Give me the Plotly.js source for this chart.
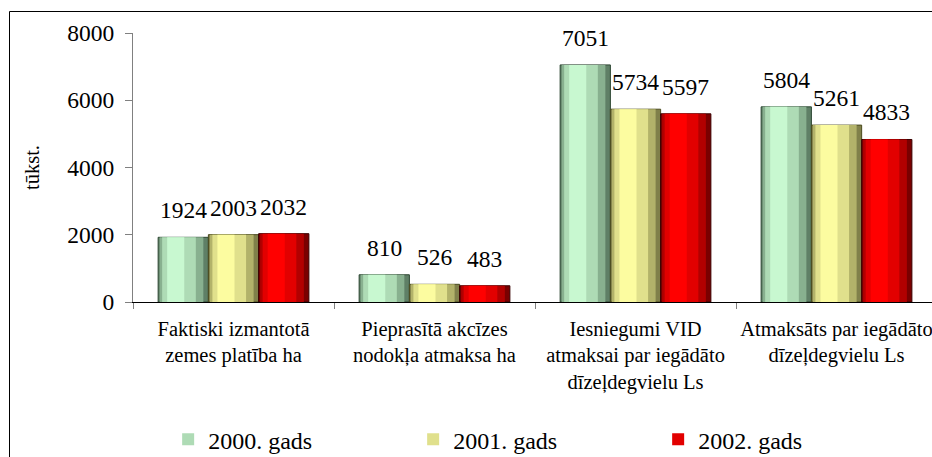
<!DOCTYPE html>
<html><head><meta charset="utf-8">
<script src="https://cdn.plot.ly/plotly-3.0.1.min.js"></script>
<style>html,body{margin:0;padding:0;background:#fff}#chart{width:932px;height:457px}</style>
</head><body><div id="chart"></div>
<script>
// ---- data ----
const categories = [
  "Faktiski izmantotā<br>zemes platība ha",
  "Pieprasītā akcīzes<br>nodokļa atmaksa ha",
  "Iesniegumi VID<br>atmaksai par iegādāto<br>dīzeļdegvielu Ls",
  "Atmaksāts par iegādāto<br>dīzeļdegvielu Ls"
];
const seriesNames = ["2000. gads", "2001. gads", "2002. gads"];
const values2000 = [1924, 810, 7051, 5804];
const values2001 = [2003, 526, 5734, 5261];
const values2002 = [2032, 483, 5597, 4833];
const yTickValues = [0, 2000, 4000, 6000, 8000];
const yAxisTitle = "tūkst.";

// ---- styling ----
const seriesValues = [values2000, values2001, values2002];
const palettes = [
  {edge: '#2c4632', outer: '#5f7f66', mid2: '#88b08f', mid: '#aedbb5', inner: '#c8f8d0'},
  {edge: '#4a4a1e', outer: '#80804a', mid2: '#b2b26a', mid: '#e0e08c', inner: '#fcfca0'},
  {edge: '#3a0000', outer: '#7a0000', mid2: '#b20000', mid: '#e20000', inner: '#ff0000'}
];
const barW = 0.25;
const layers = [
  {key: 'outer', f0: 0, f1: 1},
  {key: 'mid2', f0: 0.03, f1: 0.9},
  {key: 'mid', f0: 0.08, f1: 0.75},
  {key: 'inner', f0: 0.18, f1: 0.52}
];
const FONT = '"Liberation Serif", "Times New Roman", serif';

const traces = [];
seriesValues.forEach((vals, i) => {
  const left = -0.375 + i * barW;
  layers.forEach(L => {
    traces.push({
      type: 'bar',
      name: seriesNames[i],
      x: categories,
      y: vals,
      offset: left + L.f0 * barW,
      width: (L.f1 - L.f0) * barW,
      marker: {
        color: palettes[i][L.key],
        line: {color: palettes[i].edge, width: L.key === 'outer' ? 1 : 0}
      },
      showlegend: L.key === 'mid',
      legendgroup: 's' + i,
      hoverinfo: 'skip'
    });
  });
});

const annotations = [];
seriesValues.forEach((vals, i) => {
  vals.forEach((v, j) => {
    annotations.push({
      x: j - 0.25 + i * barW, y: v, xref: 'x', yref: 'y',
      text: String(v), showarrow: false, yshift: 27,
      font: {family: FONT, size: 23.5, color: '#000'}
    });
  });
});

const layout = {
  width: 932, height: 457,
  margin: {l: 133, r: 0, t: 33, b: 155},
  paper_bgcolor: '#fff', plot_bgcolor: '#fff',
  font: {family: FONT, color: '#000'},
  barmode: 'overlay',
  showlegend: true,
  xaxis: {
    type: 'category', range: [-0.5, 3.475],
    tickson: 'boundaries', ticks: 'outside', ticklen: 6, tickcolor: '#808080',
    showline: true, linecolor: '#000', linewidth: 1,
    showgrid: false, zeroline: false,
    tickfont: {family: FONT, size: 20.5, color: '#000'},
    ticklabelstandoff: 8
  },
  yaxis: {
    range: [0, 8000], tickvals: yTickValues, ticktext: yTickValues.map(String),
    ticks: 'outside', ticklen: 7, tickcolor: '#808080',
    showline: true, linecolor: '#808080', linewidth: 1,
    showgrid: false, zeroline: false,
    tickfont: {family: FONT, size: 23.5, color: '#000'},
    ticklabelstandoff: 6,
    title: {text: yAxisTitle, font: {family: FONT, size: 20.5, color: '#000'}, standoff: 22},
    automargin: true
  },
  legend: {
    orientation: 'h', x: 0.044, xref: 'paper', y: 0.038, yref: 'container',
    xanchor: 'left', yanchor: 'middle',
    font: {family: FONT, size: 24, color: '#000'},
    entrywidth: 200, bgcolor: 'rgba(0,0,0,0)', traceorder: 'normal'
  },
  annotations: annotations,
  shapes: [{
    type: 'rect', xref: 'paper', yref: 'paper',
    x0: (9.5 - 133) / 799, x1: 1.2, y0: -1, y1: (302 - 11.5) / 269,
    line: {color: '#000', width: 1}, fillcolor: 'rgba(0,0,0,0)'
  }]
};

Plotly.newPlot('chart', traces, layout, {displayModeBar: false, staticPlot: true});
</script>
</body></html>
